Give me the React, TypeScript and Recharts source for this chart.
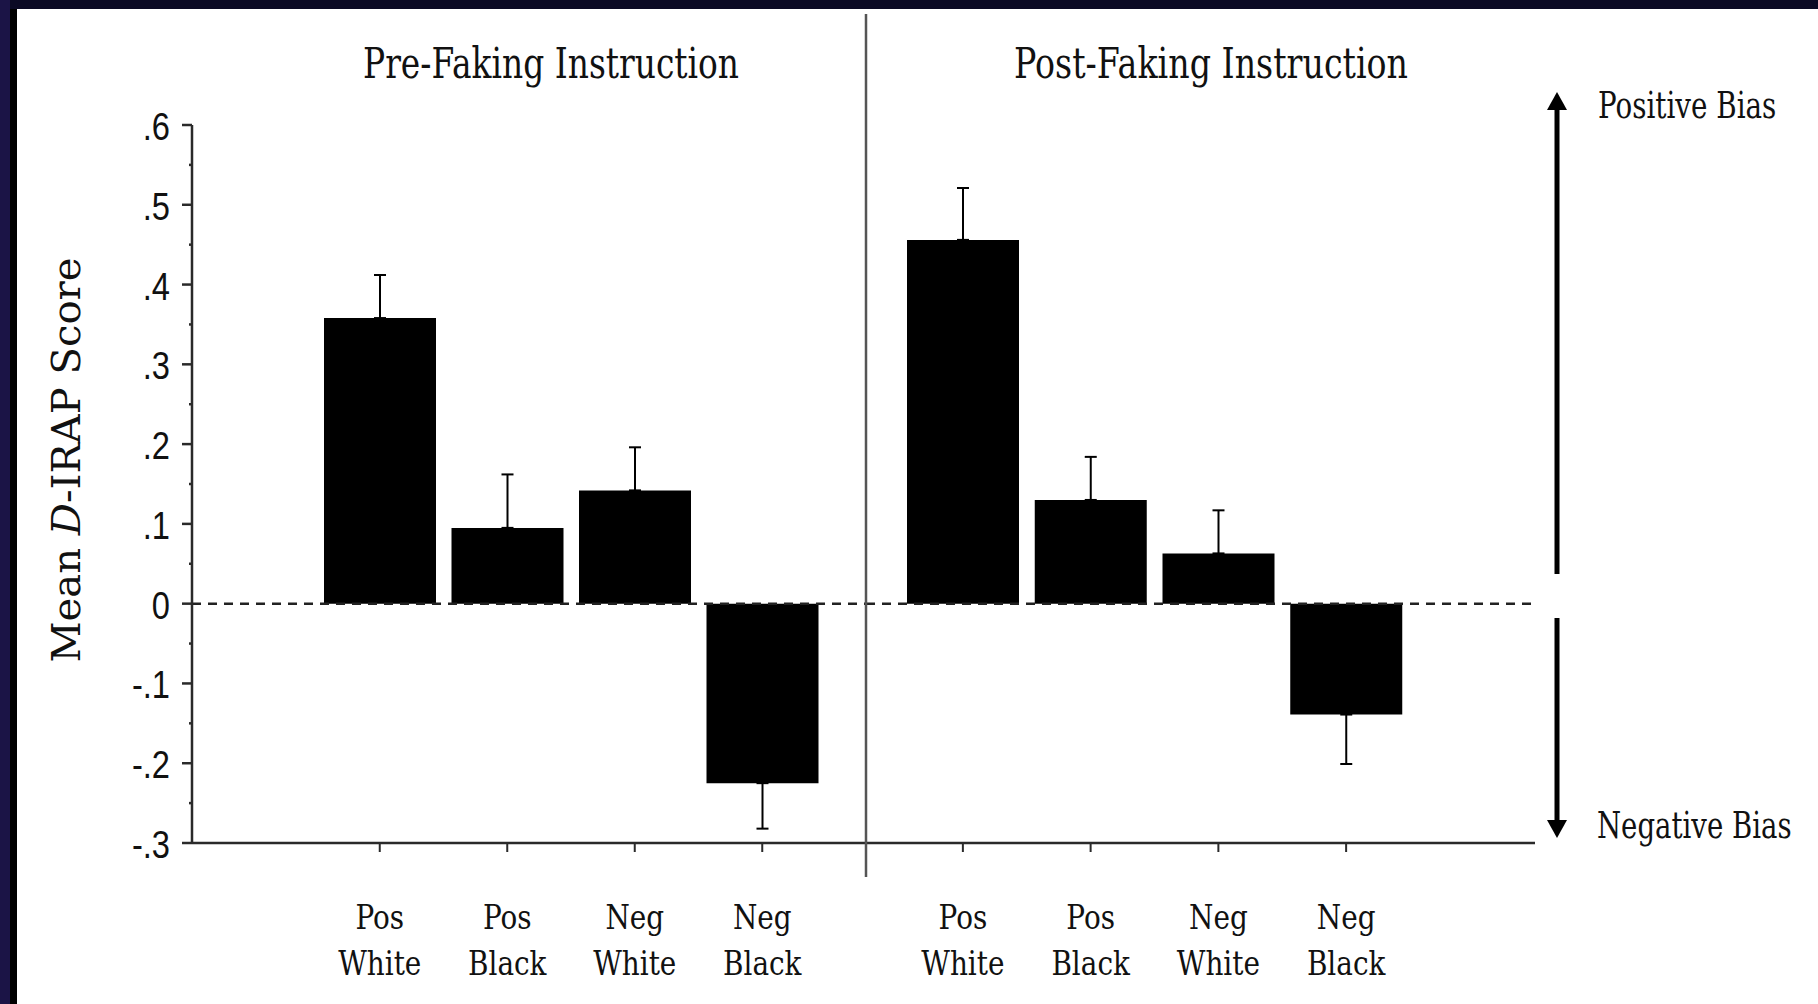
import React from 'react';
import { BarChart, Bar, XAxis, YAxis, ReferenceLine, ErrorBar } from 'recharts';

// ---- data ----
const categories = ['Pos White', 'Pos Black', 'Neg White', 'Neg Black'];
const labelLine1 = ['Pos', 'Pos', 'Neg', 'Neg'];
const labelLine2 = ['White', 'Black', 'White', 'Black'];
const preMeans = [0.358, 0.095, 0.142, -0.225];
const preErrors = [0.054, 0.067, 0.054, 0.057];
const postMeans = [0.456, 0.130, 0.063, -0.139];
const postErrors = [0.065, 0.054, 0.054, 0.062];
const groupTitles = ['Pre-Faking Instruction', 'Post-Faking Instruction'];
const yMajorTicks = [0.6, 0.5, 0.4, 0.3, 0.2, 0.1, 0, -0.1, -0.2, -0.3];
const yTickLabels = ['.6', '.5', '.4', '.3', '.2', '.1', '0', '-.1', '-.2', '-.3'];
const yMinorTicks = [0.55, 0.45, 0.35, 0.25, 0.15, 0.05, -0.05, -0.15, -0.25];
const yDomain = [-0.3, 0.6];
const yTitle = ['Mean ', 'D', '-IRAP Score'];
const biasLabels = ['Positive Bias', 'Negative Bias'];

const buildData = (means: number[], errs: number[]) =>
  categories.map((c, i) => ({
    name: c,
    mean: means[i],
    err: means[i] >= 0 ? [0, errs[i]] : [errs[i], 0],
  }));

const preData = buildData(preMeans, preErrors);
const postData = buildData(postMeans, postErrors);

const SERIF = '"DejaVu Serif", "Liberation Serif", serif';
const SANS = '"Liberation Sans", Arial, sans-serif';
const INK = '#111';
const AXIS = '#2a2a2a';

const XTick = (props: any) => {
  const { x, y, index } = props;
  return (
    <g transform={`translate(${x},${y})`}>
      <g transform="scale(0.82,1)">
        <text x={0} y={75} textAnchor="middle" fontFamily={SERIF} fontSize={34} fill={INK}>
          {labelLine1[index]}
        </text>
        <text x={0} y={121} textAnchor="middle" fontFamily={SERIF} fontSize={34} fill={INK}>
          {labelLine2[index]}
        </text>
      </g>
    </g>
  );
};

const YTick = (props: any) => {
  const { x, y, payload } = props;
  const v = payload.value;
  const mi = yMajorTicks.findIndex((t) => Math.abs(t - v) < 1e-6);
  if (mi < 0) {
    return <line x1={x + 19} x2={x + 22} y1={y} y2={y} stroke={AXIS} strokeWidth={2.5} />;
  }
  return (
    <g>
      <line x1={x + 12} x2={x + 22} y1={y} y2={y} stroke={AXIS} strokeWidth={2.5} />
      <g transform={`translate(${x},${y + 15}) scale(0.86,1)`}>
        <text x={0} y={0} textAnchor="end" fontFamily={SANS} fontSize={38} fill={INK}>
          {yTickLabels[mi]}
        </text>
      </g>
    </g>
  );
};

const allYTicks = [...yMajorTicks, ...yMinorTicks];

export default function App() {
  return (
    <div
      style={{
        position: 'absolute',
        left: 0,
        top: 0,
        width: 1818,
        height: 1004,
        background: '#ffffff',
        overflow: 'hidden',
      }}
    >
      <div style={{ position: 'absolute', left: 0, top: 0, width: 10, height: 1004, background: '#1b1446' }} />
      <div style={{ position: 'absolute', left: 10, top: 0, width: 1808, height: 9, background: '#0b0a24' }} />
      <div style={{ position: 'absolute', left: 10, top: 9, width: 7, height: 995, background: '#000' }} />

      <div style={{ position: 'absolute', left: 0, top: 0 }}>
        <BarChart
          width={866}
          height={1004}
          data={preData}
          margin={{ top: 125, right: 0, bottom: 0, left: 0 }}
          barSize={112}
        >
          <YAxis
            type="number"
            domain={yDomain}
            ticks={allYTicks}
            interval={0}
            width={192}
            tickSize={10}
            tickMargin={12}
            tickLine={false}
            tick={<YTick />}
            axisLine={{ stroke: AXIS, strokeWidth: 2.5 }}
          />
          <XAxis
            dataKey="name"
            height={161}
            padding={{ left: 124, right: 40 }}
            tickSize={9}
            tickMargin={2}
            interval={0}
            tick={<XTick />}
            tickLine={{ stroke: AXIS, strokeWidth: 2 }}
            axisLine={{ stroke: AXIS, strokeWidth: 2.5 }}
          />
          <ReferenceLine y={0} stroke="#222" strokeWidth={2.5} strokeDasharray="9 7" />
          <Bar dataKey="mean" fill="#000" isAnimationActive={false}>
            <ErrorBar dataKey="err" direction="y" width={6} strokeWidth={2} stroke="#000" />
          </Bar>
        </BarChart>
      </div>

      <div style={{ position: 'absolute', left: 866, top: 0 }}>
        <BarChart
          width={669}
          height={1004}
          data={postData}
          margin={{ top: 125, right: 0, bottom: 0, left: 0 }}
          barSize={112}
        >
          <YAxis type="number" domain={yDomain} ticks={yMajorTicks} hide />
          <XAxis
            dataKey="name"
            height={161}
            padding={{ left: 33, right: 125 }}
            tickSize={9}
            tickMargin={2}
            interval={0}
            tick={<XTick />}
            tickLine={{ stroke: AXIS, strokeWidth: 2 }}
            axisLine={{ stroke: AXIS, strokeWidth: 2.5 }}
          />
          <ReferenceLine y={0} stroke="#222" strokeWidth={2.5} strokeDasharray="9 7" />
          <Bar dataKey="mean" fill="#000" isAnimationActive={false}>
            <ErrorBar dataKey="err" direction="y" width={6} strokeWidth={2} stroke="#000" />
          </Bar>
        </BarChart>
      </div>

      <svg
        width={1818}
        height={1004}
        style={{ position: 'absolute', left: 0, top: 0, pointerEvents: 'none' }}
      >
        {/* group separator */}
        <line x1={866} x2={866} y1={14} y2={877} stroke="#555" strokeWidth={2.5} />
        {/* group titles */}
        <text x={551} y={78} textAnchor="middle" fontFamily={SERIF} fontSize={43} fill={INK}
          textLength={376} lengthAdjust="spacingAndGlyphs">
          {groupTitles[0]}
        </text>
        <text x={1211} y={78} textAnchor="middle" fontFamily={SERIF} fontSize={43} fill={INK}
          textLength={394} lengthAdjust="spacingAndGlyphs">
          {groupTitles[1]}
        </text>
        {/* y-axis title */}
        <text transform="rotate(-90)" x={-460} y={80} textAnchor="middle" fontFamily={SERIF}
          fontSize={40} fill={INK} textLength={405} lengthAdjust="spacingAndGlyphs">
          {yTitle[0]}
          <tspan fontStyle="italic">{yTitle[1]}</tspan>
          {yTitle[2]}
        </text>
        {/* bias arrows */}
        <line x1={1557} x2={1557} y1={574} y2={104} stroke="#000" strokeWidth={5} />
        <polygon points="1557,92 1547,110 1567,110" fill="#000" />
        <line x1={1557} x2={1557} y1={618} y2={825} stroke="#000" strokeWidth={5} />
        <polygon points="1557,838 1547,820 1567,820" fill="#000" />
        <g transform="translate(1598,118) scale(0.75,1)">
          <text x={0} y={0} fontFamily={SERIF} fontSize={37} fill={INK}>
            {biasLabels[0]}
          </text>
        </g>
        <g transform="translate(1597,838) scale(0.745,1)">
          <text x={0} y={0} fontFamily={SERIF} fontSize={37} fill={INK}>
            {biasLabels[1]}
          </text>
        </g>
      </svg>
    </div>
  );
}
